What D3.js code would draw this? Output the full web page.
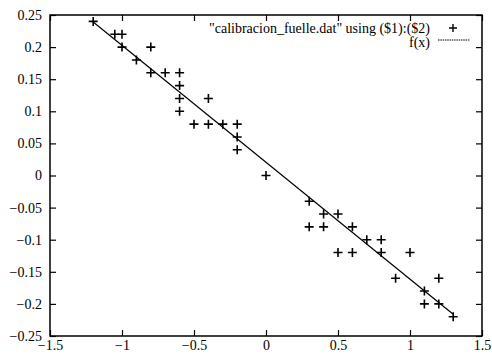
<!DOCTYPE html>
<html>
<head>
<meta charset="utf-8">
<script src="https://cdn.jsdelivr.net/npm/d3@7"></script>
<style>
  body { margin: 0; background: #fff; }
</style>
</head>
<body>
<div id="chart"></div>
<script>
// measured points (x, y)
var dataX = [-1.2, -1.05, -1.0, -1.0, -0.9, -0.8, -0.8, -0.7, -0.6, -0.6, -0.6, -0.6,
             -0.5, -0.4, -0.4, -0.3, -0.2, -0.2, -0.2, 0.0,
             0.3, 0.3, 0.4, 0.4, 0.5, 0.5, 0.6, 0.6, 0.7, 0.8, 0.8, 0.9, 1.0,
             1.1, 1.1, 1.2, 1.2, 1.3];
var dataY = [0.24, 0.22, 0.22, 0.2, 0.18, 0.2, 0.16, 0.16, 0.16, 0.14, 0.12, 0.1,
             0.08, 0.12, 0.08, 0.08, 0.08, 0.06, 0.04, 0.0,
             -0.04, -0.08, -0.06, -0.08, -0.06, -0.12, -0.08, -0.12, -0.1, -0.1, -0.12, -0.16, -0.12,
             -0.18, -0.2, -0.16, -0.2, -0.22];

// fitted line f(x), end points
var fitX = [-1.2, 1.3];
var fitY = [0.239, -0.216];

var xTicks = [-1.5, -1, -0.5, 0, 0.5, 1, 1.5];
var yTicks = [-0.25, -0.2, -0.15, -0.1, -0.05, 0, 0.05, 0.1, 0.15, 0.2, 0.25];

var legendLabels = ['"calibracion_fuelle.dat" using ($1):($2)', 'f(x)'];

const WIDTH = 492;
const HEIGHT = 356;
const LEFT = 50, RIGHT = 482, TOP = 15, BOTTOM = 336;
const TICK = 6;
const FONT = "'Liberation Serif', 'DejaVu Serif', serif";

var svg = d3.select("#chart")
    .append("svg")
    .attr("width", WIDTH)
    .attr("height", HEIGHT);

var xScale = d3.scaleLinear().domain([-1.5, 1.5]).range([LEFT, RIGHT]),
    yScale = d3.scaleLinear().domain([-0.25, 0.25]).range([BOTTOM, TOP]);

var fmt = d3.format("");

// axes (gnuplot style: inward ticks, mirrored)
svg.append("g")
    .attr("transform", "translate(0," + BOTTOM + ")")
    .call(d3.axisBottom(xScale).tickValues(xTicks).tickSizeInner(-TICK).tickSizeOuter(0).tickPadding(4).tickFormat(fmt))
    .call(g => g.select(".domain").remove());
svg.append("g")
    .attr("transform", "translate(0," + TOP + ")")
    .call(d3.axisTop(xScale).tickValues(xTicks).tickSizeInner(-TICK).tickSizeOuter(0).tickFormat(""))
    .call(g => g.select(".domain").remove());
svg.append("g")
    .attr("transform", "translate(" + LEFT + ",0)")
    .call(d3.axisLeft(yScale).tickValues(yTicks).tickSizeInner(-TICK).tickSizeOuter(0).tickPadding(8).tickFormat(fmt))
    .call(g => g.select(".domain").remove());
svg.append("g")
    .attr("transform", "translate(" + RIGHT + ",0)")
    .call(d3.axisRight(yScale).tickValues(yTicks).tickSizeInner(-TICK).tickSizeOuter(0).tickFormat(""))
    .call(g => g.select(".domain").remove());

svg.selectAll("g").attr("font-family", FONT).attr("font-size", 14);
svg.selectAll(".tick line").attr("stroke", "#000").attr("stroke-width", 1.2);
svg.selectAll(".tick text").attr("fill", "#000");

// frame
svg.append("rect")
    .attr("x", LEFT).attr("y", TOP)
    .attr("width", RIGHT - LEFT).attr("height", BOTTOM - TOP)
    .attr("fill", "none")
    .attr("stroke", "#000")
    .attr("stroke-width", 1.5);

// fit line
var line = d3.line()
    .x(function (d, i) { return xScale(fitX[i]); })
    .y(function (d, i) { return yScale(fitY[i]); });
svg.append("path")
    .datum(fitX)
    .attr("d", line)
    .attr("fill", "none")
    .attr("stroke", "#000")
    .attr("stroke-width", 1.2);

// points as "+"
function plusPath(s) { return "M" + (-s) + ",0H" + s + "M0," + (-s) + "V" + s; }
svg.append("g")
    .selectAll("path")
    .data(dataX)
    .enter()
    .append("path")
    .attr("transform", function (d, i) { return "translate(" + xScale(d) + "," + yScale(dataY[i]) + ")"; })
    .attr("d", plusPath(4.5))
    .attr("stroke", "#000")
    .attr("stroke-width", 1.6)
    .attr("fill", "none");

// legend
var legend = svg.append("g")
    .attr("font-family", FONT)
    .attr("font-size", 14);
legend.append("text")
    .attr("x", 430).attr("y", 33)
    .attr("text-anchor", "end")
    .text(legendLabels[0]);
legend.append("path")
    .attr("transform", "translate(453,28)")
    .attr("d", plusPath(4))
    .attr("stroke", "#000")
    .attr("stroke-width", 1.4);
legend.append("text")
    .attr("x", 430).attr("y", 47)
    .attr("text-anchor", "end")
    .text(legendLabels[1]);
legend.append("line")
    .attr("x1", 438).attr("x2", 470)
    .attr("y1", 40).attr("y2", 40)
    .attr("stroke", "#000")
    .attr("stroke-width", 1)
    .attr("stroke-dasharray", "1.5,0.8");
</script>
</body>
</html>
